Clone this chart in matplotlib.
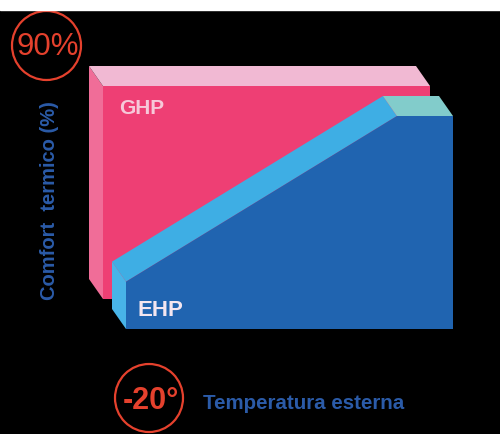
import matplotlib.pyplot as plt
from matplotlib.patches import Polygon, Ellipse, Rectangle

# outside temperature (deg C) at the corners of each profile
temperature = [-20, 9, 15]
# thermal comfort (%) reached by each system
ehp_comfort = [20, 90, 90]
ghp_comfort = [90, 90, 90]

RED = '#e5412d'
BLUE = '#2b5ba8'


def px_to_data(ax, dx, dy):
    # convert a pixel offset into a data-space offset
    x0, y0 = ax.transData.transform((0, 0))
    return tuple(ax.transData.inverted().transform((x0 + dx, y0 + dy)))


def draw_box(ax, xs, ys, shift, depth, front, tops, side):
    sx, sy = px_to_data(ax, *shift)
    dx, dy = px_to_data(ax, *depth)
    xs = [x + sx for x in xs]
    ys = [y + sy for y in ys]
    base = sy
    kw = dict(lw=0, clip_on=False)
    # left side
    ax.add_patch(Polygon([(xs[0], base), (xs[0], ys[0]), (xs[0] + dx, ys[0] + dy),
                          (xs[0] + dx, base + dy)], color=side, **kw))
    # top: consecutive segments sharing a colour become one face
    i = 0
    while i < len(xs) - 1:
        j = i + 1
        while j < len(xs) - 1 and tops[j] == tops[i]:
            j += 1
        fr = list(zip(xs[i:j + 1], ys[i:j + 1]))
        bk = [(x + dx, y + dy) for x, y in reversed(fr)]
        ax.add_patch(Polygon(fr + bk, color=tops[i], **kw))
        i = j
    # front
    ax.add_patch(Polygon([(xs[0], base)] + list(zip(xs, ys)) + [(xs[-1], base)],
                         color=front, **kw))


fig = plt.figure(figsize=(5, 4.35), dpi=100, facecolor='black')
ax = fig.add_axes([126 / 500, 105 / 435, 327 / 500, 213 / 435])
ax.set_xlim(temperature[0], temperature[-1])
ax.set_ylim(0, 90)
ax.axis('off')

draw_box(ax, temperature, ghp_comfort, shift=(-23, 30), depth=(-14, 20),
         front='#ee3f74', tops=['#f1b9d3', '#f1b9d3'], side='#f06d98')
draw_box(ax, temperature, ehp_comfort, shift=(0, 0), depth=(-14, 20),
         front='#2064b0', tops=['#3eaee4', '#82cccb'], side='#48b4e8')

fig.text(142 / 500, 1 - 108 / 435, 'GHP', color='#f6c9d9', fontsize=15,
         fontweight='bold', ha='center', va='center', family='Liberation Sans')
fig.text(160 / 500, 1 - 311 / 435, 'EHP', color='#f3e6f0', fontsize=16,
         fontweight='bold', ha='center', va='center', family='Liberation Sans')

# axis captions
fig.text(50 / 500, 1 - 201 / 435, 'Comfort  termico (%)', color=BLUE, fontsize=14.5,
         fontweight='bold', rotation=90, ha='center', va='center',
         family='Liberation Sans')
fig.text(203 / 500, 1 - 404 / 435, 'Temperatura esterna', color=BLUE, fontsize=14.8,
         fontweight='bold', ha='left', va='center', family='Liberation Sans')

# circled end values
fig.patches.append(Ellipse((46.5 / 500, 1 - 46.5 / 435), 69 / 500, 69 / 435,
                           transform=fig.transFigure, fill=False, ec=RED, lw=1.6, zorder=1))
fig.text(48 / 500, 1 - 47 / 435, '90%', color=RED, fontsize=22.5, ha='center',
         va='center', family='Liberation Sans', zorder=2)
fig.patches.append(Ellipse((149 / 500, 1 - 399 / 435), 68 / 500, 68 / 435,
                           transform=fig.transFigure, fill=False, ec=RED, lw=1.6, zorder=1))
fig.text(151 / 500, 1 - 401 / 435, '-20°', color=RED, fontsize=22, fontweight='bold',
         ha='center', va='center', family='Liberation Sans', zorder=2)

# white band along the top edge
fig.patches.append(Rectangle((0, 1 - 11 / 435), 1, 11 / 435, transform=fig.transFigure,
                             color='white', zorder=5))

fig.savefig('out.png', dpi=100, facecolor='black')
